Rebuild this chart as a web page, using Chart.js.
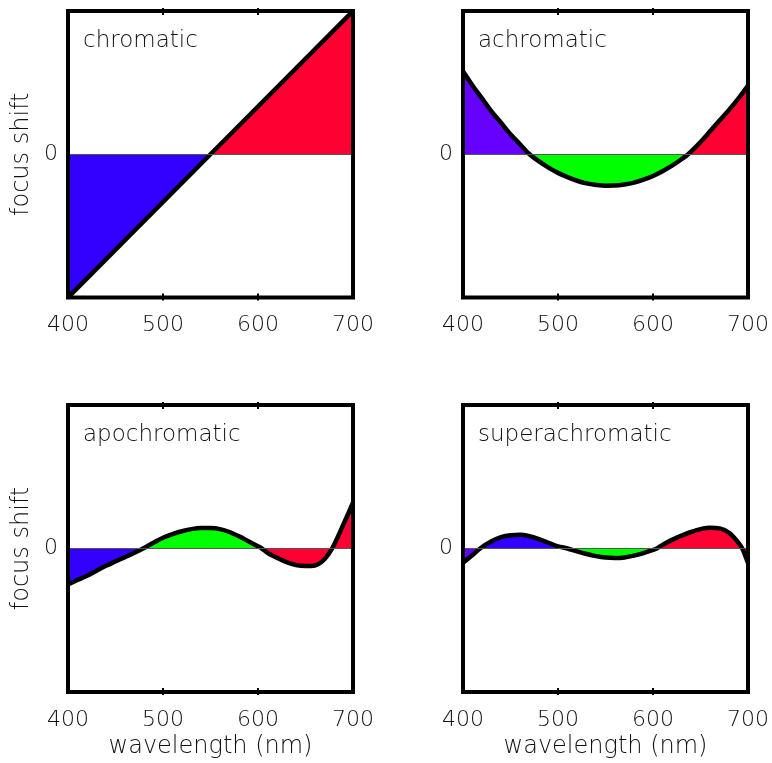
<!DOCTYPE html>
<html>
<head>
<meta charset="utf-8">
<script src="https://cdn.jsdelivr.net/npm/chart.js@4.4.1/dist/chart.umd.min.js"></script>
<style>
  body { margin: 0; background: #fff; }
  #wrap { position: relative; width: 772px; height: 763px; }
  .panel { position: absolute; }
</style>
</head>
<body>
<div id="wrap">
  <div class="panel" style="left:0;top:0"><canvas id="c1" width="386" height="345"></canvas></div>
  <div class="panel" style="left:386px;top:0"><canvas id="c2" width="386" height="345"></canvas></div>
  <div class="panel" style="left:0;top:390px"><canvas id="c3" width="386" height="373"></canvas></div>
  <div class="panel" style="left:386px;top:390px"><canvas id="c4" width="386" height="373"></canvas></div>
</div>
<script>
const xTicks = [400, 500, 600, 700];
const yTicks = [0];

// chromatic
const chromWl = [400, 550, 700];
const chromShift = [-1, 0, 1];
const chromBreaks = [400, 550, 700];
const chromColors = ['#3300ff', '#ff0033'];

// achromatic
const achroWl = [400, 410, 420, 430, 440, 450, 460, 470, 480, 490, 500, 510, 520, 530, 540, 550,
  560, 570, 580, 590, 600, 610, 620, 630, 637, 650, 660, 670, 680, 690, 700];
const achroShift = [0.58, 0.48, 0.39, 0.30, 0.22, 0.14, 0.07, 0, -0.05, -0.093, -0.13, -0.16, -0.185, -0.203, -0.214, -0.22,
  -0.219, -0.211, -0.198, -0.178, -0.152, -0.119, -0.08, -0.035, 0, 0.085, 0.16, 0.235, 0.31, 0.39, 0.48];
const achroBreaks = [400, 470, 637, 700];
const achroColors = ['#6600ff', '#00ff00', '#ff0033'];

// apochromatic
const apoWl = [400, 410, 420, 430, 440, 450, 460, 470, 479, 490, 500, 510, 520, 530, 540, 550,
  560, 570, 580, 590, 600, 604, 610, 620, 630, 640, 650, 660, 670, 678, 690, 700];
const apoShift = [-0.25, -0.22, -0.19, -0.155, -0.12, -0.09, -0.06, -0.03, 0, 0.04, 0.075, 0.10, 0.12, 0.135, 0.142, 0.142,
  0.135, 0.115, 0.085, 0.05, 0.015, 0, -0.03, -0.065, -0.095, -0.115, -0.122, -0.118, -0.075, 0, 0.17, 0.32];
const apoBreaks = [400, 479, 604, 678, 700];
const apoColors = ['#3300ff', '#00ff00', '#ff0033', '#ff0033'];

// superachromatic
const superWl = [400, 410, 418, 430, 440, 450, 460, 470, 480, 490, 500, 510, 520, 530, 540, 550,
  560, 570, 580, 590, 600, 604, 610, 620, 630, 640, 650, 660, 670, 680, 690, 694, 700];
const superShift = [-0.10, -0.045, 0, 0.05, 0.08, 0.093, 0.095, 0.085, 0.065, 0.04, 0.015, 0, -0.02, -0.038, -0.053, -0.063,
  -0.066, -0.062, -0.05, -0.032, -0.01, 0, 0.025, 0.06, 0.09, 0.115, 0.135, 0.145, 0.14, 0.11, 0.04, 0, -0.10];
const superBreaks = [400, 418, 510, 604, 694, 700];
const superColors = ['#6600ff', '#3300ff', '#00ff00', '#ff0033', '#ff0033'];

Chart.defaults.font.family = 'DejaVu Sans';
Chart.defaults.color = '#111';

// frame around the plot area plus little nubs at the inner ticks
const framePlugin = {
  id: 'frame',
  afterDraw(chart, args, opts) {
    const {ctx, chartArea: a, scales} = chart;
    ctx.save();
    ctx.strokeStyle = '#000';
    ctx.lineWidth = 4;
    ctx.strokeRect(a.left, a.top, a.right - a.left, a.bottom - a.top);
    ctx.lineWidth = 2;
    xTicks.slice(1, -1).forEach(v => {
      const px = scales.x.getPixelForValue(v);
      ctx.beginPath();
      ctx.moveTo(px, a.top - 3); ctx.lineTo(px, a.top + 4);
      ctx.moveTo(px, a.bottom - 4); ctx.lineTo(px, a.bottom + 3);
      ctx.stroke();
    });
    ctx.fillStyle = '#111';
    ctx.font = '200 23px "DejaVu Sans"';
    ctx.textBaseline = 'middle';
    ctx.fillText(opts.text, a.left + 15, a.top + 30);
    ctx.restore();
  }
};

function makeChart(id, p) {
  const pts = p.wl.map((x, i) => ({x, y: p.shift[i]}));
  const fills = p.colors.map((c, i) => ({
    data: pts.filter(pt => pt.x >= p.breaks[i] && pt.x <= p.breaks[i + 1]),
    borderWidth: 0,
    borderColor: 'transparent',
    backgroundColor: c,
    pointRadius: 0,
    fill: 'origin',
    cubicInterpolationMode: 'monotone',
    order: 2
  }));
  const curve = {
    data: pts,
    borderColor: '#000',
    borderWidth: 4.5,
    pointRadius: 0,
    fill: false,
    cubicInterpolationMode: 'monotone',
    order: 0
  };

  return new Chart(document.getElementById(id), {
    type: 'line',
    data: { datasets: [...fills, curve] },
    plugins: [framePlugin],
    options: {
      responsive: false,
      animation: false,
      layout: { padding: { top: p.padTop, right: p.padRight, bottom: 0, left: 0 } },
      plugins: {
        legend: { display: false },
        tooltip: { enabled: false },
        frame: { text: p.label }
      },
      scales: {
        x: {
          type: 'linear',
          min: 400,
          max: 700,
          afterBuildTicks: s => { s.ticks = xTicks.map(v => ({value: v})); },
          afterFit: s => { s.height = p.xHeight; s.paddingLeft = 0; s.paddingRight = 0; },
          grid: { display: false },
          border: { display: false },
          ticks: { font: { size: 22, weight: '200' }, padding: 7, maxRotation: 0 },
          title: {
            display: p.xTitle,
            text: 'wavelength (nm)',
            font: { size: 24, weight: '200' },
            padding: { top: 0, bottom: 2 }
          }
        },
        y: {
          type: 'linear',
          min: -1,
          max: 1,
          afterBuildTicks: s => { s.ticks = yTicks.map(v => ({value: v})); },
          afterFit: s => { s.width = p.yWidth; s.paddingTop = 0; s.paddingBottom = 0; },
          grid: {
            drawTicks: false,
            z: 1,
            lineWidth: 1,
            color: '#555'
          },
          border: { display: false },
          ticks: {
            font: { size: 22, weight: '200' },
            padding: 10
          },
          title: {
            display: p.yTitle,
            text: 'focus shift',
            font: { size: 24, weight: '200' },
            padding: { top: 7, bottom: 0 }
          }
        }
      }
    }
  });
}

makeChart('c1', { wl: chromWl, shift: chromShift, breaks: chromBreaks, colors: chromColors, label: 'chromatic',
  yTitle: true, xTitle: false, yWidth: 68, padTop: 11, padRight: 33, xHeight: 47.5 });
makeChart('c2', { wl: achroWl, shift: achroShift, breaks: achroBreaks, colors: achroColors, label: 'achromatic',
  yTitle: false, xTitle: false, yWidth: 77, padTop: 11, padRight: 24, xHeight: 47.5 });
makeChart('c3', { wl: apoWl, shift: apoShift, breaks: apoBreaks, colors: apoColors, label: 'apochromatic',
  yTitle: true, xTitle: true, yWidth: 68, padTop: 15, padRight: 33, xHeight: 71 });
makeChart('c4', { wl: superWl, shift: superShift, breaks: superBreaks, colors: superColors, label: 'superachromatic',
  yTitle: false, xTitle: true, yWidth: 77, padTop: 15, padRight: 24, xHeight: 71 });
</script>
</body>
</html>
